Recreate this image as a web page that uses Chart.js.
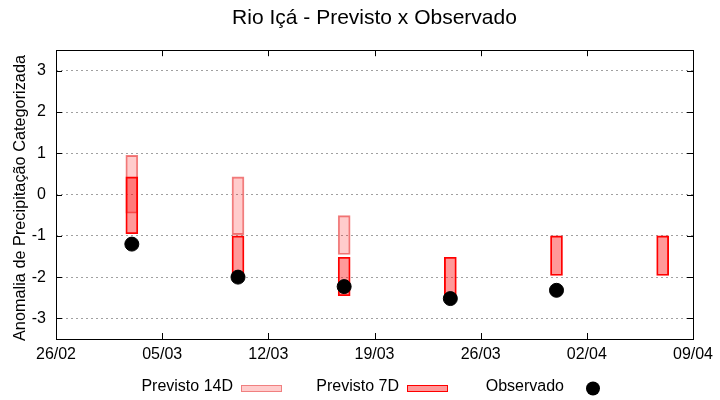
<!DOCTYPE html>
<html lang="pt">
  <head>
    <meta charset="UTF-8" />
    <script src="https://cdn.jsdelivr.net/npm/chart.js@4.4.1/dist/chart.umd.min.js"></script>
    <title>Rio Içá - Previsto x Observado</title>
    <style>
      body { margin: 0; padding: 0; background: white; }
      .container { width: 720px; height: 400px; }
    </style>
  </head>
  <body>
    <div class="container">
      <canvas id="chart"></canvas>
    </div>
    <script>
      // data
      const startDate = '2025-02-26'
      const dates = ['2025-03-03', '2025-03-10', '2025-03-17', '2025-03-24', '2025-03-31', '2025-04-07']
      const prev14Low = [-0.45, -0.97, -1.45, null, null, null]
      const prev14High = [0.95, 0.43, -0.51, null, null, null]
      const prev7Low = [-0.95, -2.0, -2.45, -2.5, -1.96, -1.96]
      const prev7High = [0.43, -1.0, -1.52, -1.52, -1.0, -1.0]
      const observed = [-1.2, -2.0, -2.23, -2.52, -2.32, null]
      const yTicks = [-3, -2, -1, 0, 1, 2, 3]
      const xTicks = [0, 7, 14, 21, 28, 35, 42]

      const DAY = 86400000
      const t0 = Date.parse(startDate)
      const dayOf = (d) => Math.round((Date.parse(d) - t0) / DAY)
      const dayLabel = (n) => {
        const d = new Date(t0 + n * DAY)
        return String(d.getUTCDate()).padStart(2, '0') + '/' + String(d.getUTCMonth() + 1).padStart(2, '0')
      }

      const range = (lo, hi) =>
        dates.map((d, i) => (lo[i] === null ? null : { x: dayOf(d), y: [lo[i], hi[i]] })).filter(Boolean)

      const c14 = { fill: 'rgba(255,0,0,0.2)', border: '#f08080' }
      const c7 = { fill: 'rgba(255,0,0,0.4)', border: '#ff0000' }

      const font = "'Liberation Sans', Arial, sans-serif"

      const frame = {
        id: 'frame',
        afterDatasetsDraw(chart) {
          const { ctx, chartArea: a, scales } = chart
          ctx.save()
          ctx.strokeStyle = '#000'
          ctx.lineWidth = 1
          ctx.beginPath()
          yTicks.forEach((v) => {
            const y = Math.round(scales.y.getPixelForValue(v)) + 0.5
            ctx.moveTo(a.left, y); ctx.lineTo(a.left + 6, y)
            ctx.moveTo(a.right, y); ctx.lineTo(a.right - 6, y)
          })
          xTicks.forEach((v) => {
            const x = Math.round(scales.x.getPixelForValue(v)) + 0.5
            ctx.moveTo(x, a.bottom); ctx.lineTo(x, a.bottom - 6)
            ctx.moveTo(x, a.top); ctx.lineTo(x, a.top + 6)
          })
          ctx.stroke()
          ctx.strokeRect(Math.round(a.left) + 0.5, Math.round(a.top) + 0.5, Math.round(a.right - a.left), Math.round(a.bottom - a.top))

          // y axis label, gnuplot puts it a bit below the middle
          ctx.fillStyle = '#000'
          ctx.font = '16.3px ' + font
          ctx.textAlign = 'center'
          ctx.textBaseline = 'middle'
          ctx.save()
          ctx.translate(21, 198)
          ctx.rotate(-Math.PI / 2)
          ctx.fillText('Anomalia de Precipitação Categorizada', 0, 0)
          ctx.restore()

          // gnuplot style key: text then sample
          ctx.font = '16px ' + font
          ctx.fillStyle = '#000'
          ctx.textBaseline = 'middle'
          const ly = 387
          ctx.textAlign = 'right'
          ctx.fillText('Previsto 14D', 233, ly)
          ctx.fillText('Previsto 7D', 399, ly)
          ctx.fillText('Observado', 564, ly)
          ctx.fillStyle = '#ffcccc'
          ctx.strokeStyle = c14.border
          ctx.fillRect(241.5, 385.5, 40, 6)
          ctx.strokeRect(241.5, 385.5, 40, 6)
          ctx.fillStyle = '#ff9999'
          ctx.strokeStyle = c7.border
          ctx.fillRect(407.5, 385.5, 40, 6)
          ctx.strokeRect(407.5, 385.5, 40, 6)
          ctx.fillStyle = '#000'
          ctx.beginPath()
          ctx.arc(593, 388.5, 7, 0, Math.PI * 2)
          ctx.fill()
          ctx.restore()
        },
      }

      new Chart(document.getElementById('chart'), {
        data: {
          datasets: [
            {
              type: 'scatter',
              label: 'Observado',
              data: dates.map((d, i) => (observed[i] === null ? null : { x: dayOf(d), y: observed[i] })).filter(Boolean),
              backgroundColor: '#000',
              borderColor: '#000',
              pointRadius: 7,
              pointHoverRadius: 7,
              order: 0,
            },
            {
              type: 'bar',
              label: 'Previsto 7D',
              data: range(prev7Low, prev7High),
              backgroundColor: c7.fill,
              borderColor: c7.border,
              borderWidth: 1.2,
              borderSkipped: false,
              barThickness: 12,
              grouped: false,
              order: 1,
            },
            {
              type: 'bar',
              label: 'Previsto 14D',
              data: range(prev14Low, prev14High),
              backgroundColor: c14.fill,
              borderColor: c14.border,
              borderWidth: 1.2,
              borderSkipped: false,
              barThickness: 12,
              grouped: false,
              order: 2,
            },
          ],
        },
        options: {
          responsive: true,
          maintainAspectRatio: false,
          animation: false,
          layout: { padding: { left: 0, right: 27, top: 0, bottom: 31 } },
          plugins: {
            legend: { display: false },
            tooltip: { enabled: false },
            title: {
              display: true,
              fullSize: false,
              text: 'Rio Içá - Previsto x Observado',
              color: '#000',
              font: { family: font, size: 21, weight: 'normal' },
              padding: { top: 6, bottom: 19 },
            },
          },
          scales: {
            x: {
              type: 'linear',
              min: 0,
              max: 42,
              offset: false,
              afterFit: (s) => { s.height = 30 },
              afterBuildTicks: (s) => { s.ticks = xTicks.map((v) => ({ value: v })) },
              grid: { display: false },
              border: { display: false },
              ticks: {
                color: '#000',
                font: { family: font, size: 16 },
                padding: -2,
                maxRotation: 0,
                callback: (v) => dayLabel(v),
              },
            },
            y: {
              min: -3.5,
              max: 3.5,
              afterFit: (s) => { s.width = 56 },
              afterBuildTicks: (s) => { s.ticks = yTicks.map((v) => ({ value: v })) },
              grid: { color: '#a0a0a0', tickLength: 0, drawTicks: false },
              border: { display: false, dash: [2, 3] },
              ticks: {
                color: '#000',
                font: { family: font, size: 16 },
                padding: 10,
              },
            },
          },
        },
        plugins: [frame],
      })
    </script>
  </body>
</html>
